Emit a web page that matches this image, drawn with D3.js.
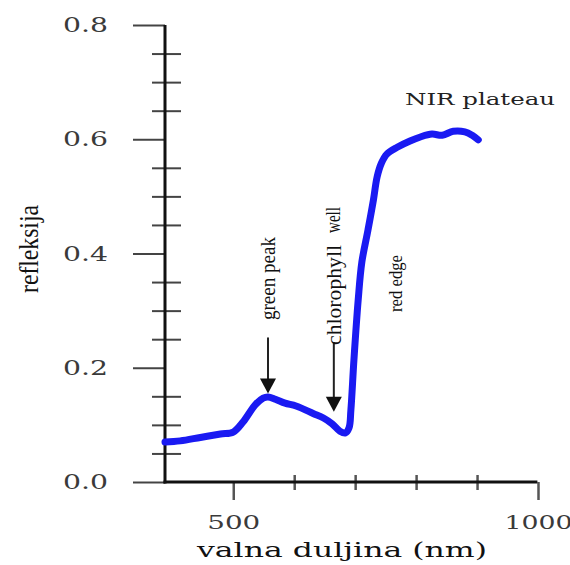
<!DOCTYPE html>
<html><head><meta charset="utf-8">
<script src="https://cdn.jsdelivr.net/npm/d3@7"></script>
<style>body{margin:0;background:#fff}svg{display:block}</style>
</head><body>
<svg id="c" width="570" height="565"></svg>
<script>
const wavelength = [388,413,446,479,500,516,536,549,557,569,585,603,631,648,662,675,684,690,693,698,705,711,721,730,736,743,752,769,790,807,826,843,861,880,892,902];
const reflectance = [0.070,0.072,0.078,0.084,0.0875,0.105,0.135,0.147,0.149,0.145,0.138,0.133,0.120,0.112,0.102,0.089,0.086,0.095,0.126,0.214,0.319,0.385,0.441,0.494,0.534,0.558,0.574,0.586,0.597,0.604,0.609,0.607,0.614,0.613,0.607,0.599];
const yMajor = [0, 0.2, 0.4, 0.6, 0.8];
const yMinor = [0.05,0.10,0.15,0.25,0.30,0.35,0.45,0.50,0.55,0.65,0.70,0.75];
const xMajor = [500, 1000];
const xMinor = [600, 700, 800, 900];
const arrows = [
  {wl:557, from:0.253, to:0.155},
  {wl:665, from:0.245, to:0.123},
];
const xTitle = "valna duljina (nm)", yTitle = "refleksija";

const svg = d3.select("#c");
const x = d3.scaleLinear().domain([388, 1000]).range([165, 538]);
const y = d3.scaleLinear().domain([0, 0.8]).range([482, 25]);
const ff = "'DejaVu Serif', serif";

// y axis
const gy = svg.append("g").attr("transform","translate(165,0)");
gy.call(d3.axisLeft(y).tickValues(yMajor).tickFormat(d3.format(".1f")).tickSize(32).tickPadding(25));
gy.select(".domain").remove();
gy.selectAll(".tick line").attr("stroke","#444").attr("stroke-width",2);
gy.selectAll(".tick text").attr("fill","#3a3a3a").style("font-family",ff).style("font-size","21px")
  .attr("textLength",45).attr("lengthAdjust","spacingAndGlyphs");
const gym = svg.append("g").attr("transform","translate(181,0)");
gym.call(d3.axisLeft(y).tickValues(yMinor).tickFormat("").tickSize(29));
gym.select(".domain").remove();
gym.selectAll(".tick line").attr("stroke","#444").attr("stroke-width",2);

// x axis
const gx = svg.append("g").attr("transform","translate(0,482)");
gx.call(d3.axisBottom(x).tickValues(xMajor).tickFormat(d3.format("d")).tickSize(18).tickPadding(16));
gx.select(".domain").remove();
gx.selectAll(".tick line").attr("stroke","#555").attr("stroke-width",2.5);
gx.selectAll(".tick text").attr("fill","#3a3a3a").style("font-family",ff).style("font-size","19px")
  .attr("textLength",d=>d===1000?68:53).attr("lengthAdjust","spacingAndGlyphs");
const gxm = svg.append("g").attr("transform","translate(0,475)");
gxm.call(d3.axisBottom(x).tickValues(xMinor).tickFormat("").tickSize(15));
gxm.select(".domain").remove();
gxm.selectAll(".tick line").attr("stroke","#555").attr("stroke-width",2.5);

// axis lines
svg.append("line").attr("x1",165).attr("x2",165).attr("y1",y(0.8)).attr("y2",y(0)+1.5).attr("stroke","#111").attr("stroke-width",3);
svg.append("line").attr("x1",163.5).attr("x2",x(999)).attr("y1",y(0)).attr("y2",y(0)).attr("stroke","#111").attr("stroke-width",3);

// titles
svg.append("text").attr("x",342).attr("y",557).attr("text-anchor","middle")
  .style("font-family",ff).style("font-size","21px").attr("fill","#111")
  .attr("textLength",290).attr("lengthAdjust","spacingAndGlyphs").text(xTitle);
svg.append("text").attr("transform","translate(38,249) rotate(-90)").attr("text-anchor","middle")
  .style("font-family","'Liberation Serif', serif").style("font-size","28px").attr("fill","#111")
  .attr("textLength",88).attr("lengthAdjust","spacingAndGlyphs").text(yTitle);

// curve
const pts = wavelength.map((w,i)=>[w, reflectance[i]]);
svg.append("path").datum(pts)
  .attr("d", d3.line().x(d=>x(d[0])).y(d=>y(d[1])).curve(d3.curveCatmullRom))
  .attr("fill","none").attr("stroke","#1a1af2").attr("stroke-width",7)
  .attr("stroke-linecap","round").attr("stroke-linejoin","round");

// arrows
arrows.forEach(a=>{
  const cx = x(a.wl);
  const y1 = y(a.from), tip = y(a.to);
  svg.append("line").attr("x1",cx).attr("x2",cx).attr("y1",y1).attr("y2",tip-12).attr("stroke","#222").attr("stroke-width",2);
  svg.append("path").attr("d",`M${cx-8},${tip-15} L${cx+8},${tip-15} L${cx},${tip} Z`).attr("fill","#111");
});
const narrow = "'Liberation Serif', serif";
function vtext(tx, cx, yBottom, len, size){
  svg.append("text").attr("transform",`translate(${cx},${yBottom}) rotate(-90)`)
    .style("font-family",narrow).style("font-size",size+"px").attr("fill","#111")
    .attr("textLength",len).attr("lengthAdjust","spacingAndGlyphs").text(tx);
}
vtext("green peak", x(557)+7, 320, 83, 20);
vtext("chlorophyll", x(665)+7, 345, 100, 20);
vtext("well", x(665)+6, 233, 26, 20);
vtext("red edge", 402, 312, 57, 19);

svg.append("text").attr("x",405).attr("y",105)
  .style("font-family",ff).style("font-size","16px").attr("fill","#222")
  .attr("textLength",150).attr("lengthAdjust","spacingAndGlyphs").text("NIR plateau");
</script>
</body></html>
